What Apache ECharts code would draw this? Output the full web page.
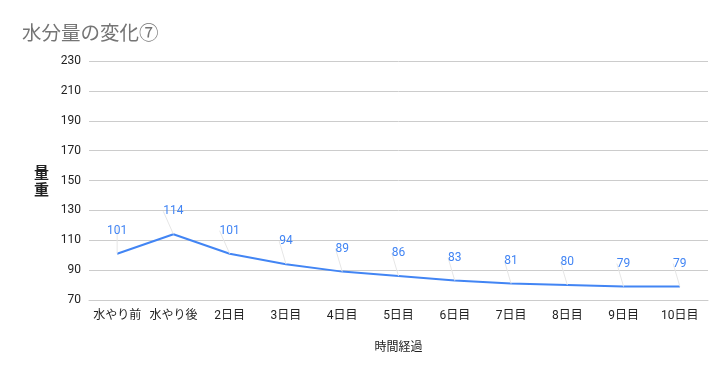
<!DOCTYPE html>
<html><head><meta charset="utf-8">
<script src="https://cdn.jsdelivr.net/npm/echarts@6/dist/echarts.min.js"></script>
<style>html,body{margin:0;padding:0;background:#fff}#c{width:727px;height:371px}</style>
</head><body><div id="c"></div>
<script>
const categories = ['水やり前','水やり後','2日目','3日目','4日目','5日目','6日目','7日目','8日目','9日目','10日目'];
const values = [101,114,101,94,89,86,83,81,80,79,79];
const yTicks = {min:70, max:230, interval:20};
const FONT = 'Roboto, "Noto Sans CJK JP", sans-serif';
const chart = echarts.init(document.getElementById('c'));
chart.setOption({
  animation:false,
  title:{text:'水分量の変化⑦', left:17, top:18, textStyle:{fontFamily:'"Noto Sans CJK JP", sans-serif', fontSize:19.5, fontWeight:'normal', color:'#757575'}},
  grid:{left:89, right:19, top:61, bottom:71},
  xAxis:{type:'category', data:categories, boundaryGap:true,
    name:'時間経過', nameLocation:'middle', nameGap:42,
    nameTextStyle:{fontFamily:FONT, fontSize:12, color:'#222'},
    axisLine:{show:true, lineStyle:{color:'#ccc'}}, axisTick:{show:false},
    axisLabel:{fontFamily:FONT, fontSize:12, color:'#222', margin:10, interval:0}},
  yAxis:{type:'value', min:yTicks.min, max:yTicks.max, interval:yTicks.interval,
    name:'量\n重', nameLocation:'middle', nameGap:40, nameRotate:0,
    nameTextStyle:{fontFamily:'"Noto Sans CJK JP", sans-serif', fontSize:15, color:'#222', lineHeight:17, fontWeight:'bold'},
    axisLine:{show:false}, axisTick:{show:false},
    splitLine:{lineStyle:{color:'#ccc'}},
    axisLabel:{fontFamily:FONT, fontSize:12, color:'#222', margin:8}},
  series:[{type:'line', data:values, symbol:'circle', symbolSize:0, showSymbol:true, smooth:false,
    lineStyle:{color:'#4285F4', width:2}, itemStyle:{color:'#4285F4'},
    label:{show:true, position:'top', distance:0, fontFamily:FONT, fontSize:12, color:'#4285F4'},
    labelLayout:function(p){
      const cx = p.rect.x + p.rect.width/2, cy = p.rect.y + p.rect.height/2;
      return {x: cx - p.labelRect.width/2, y: cy - 23 - p.labelRect.height/2, align:'left', verticalAlign:'top'};
    },
    labelLine:{show:true, lineStyle:{color:'#e6e6e6', width:1}}
  }]
});
</script></body></html>
